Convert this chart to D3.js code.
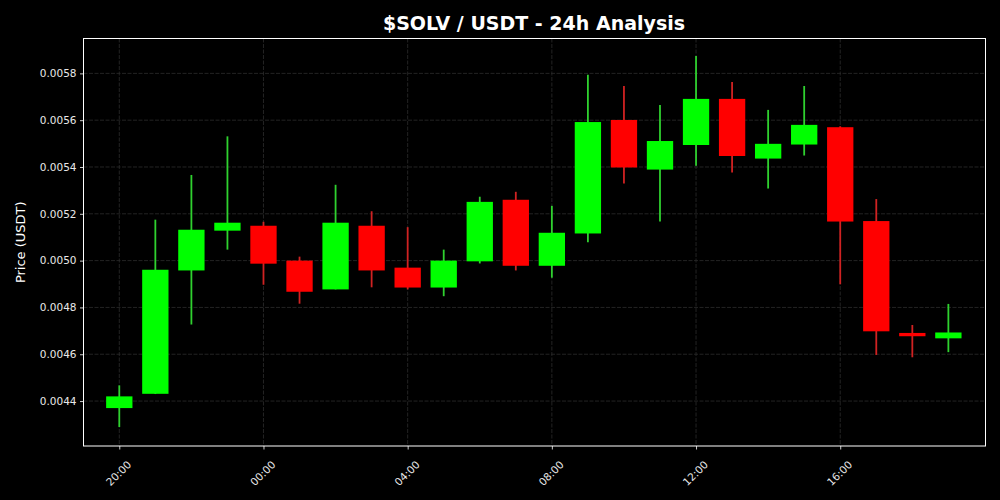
<!DOCTYPE html>
<html>
<head>
<meta charset="utf-8">
<script src="https://cdn.jsdelivr.net/npm/d3@7"></script>
<style>
    body { margin: 0; background: #000; }
    #chart { width: 1000px; height: 500px; }
    text { font-family: "DejaVu Sans", sans-serif; }
</style>
</head>
<body>
<div id="chart"></div>
<script>

// hourly candles, starting 20:00
let hours = [20, 21, 22, 23, 0, 1, 2, 3, 4, 5, 6, 7, 8, 9, 10, 11, 12, 13, 14, 15, 16, 17, 18, 19];
let opens  = [0.004370, 0.004431, 0.004958, 0.005128, 0.005149, 0.005000, 0.004877, 0.005149,
              0.004970, 0.004885, 0.004997, 0.005260, 0.004978, 0.005116, 0.005601, 0.005389,
              0.005494, 0.005691, 0.005436, 0.005496, 0.005570, 0.005169, 0.004691, 0.004668];
let closes = [0.004420, 0.004961, 0.005132, 0.005162, 0.004987, 0.004867, 0.005162, 0.004958,
              0.004885, 0.005000, 0.005251, 0.004978, 0.005119, 0.005592, 0.005398, 0.005511,
              0.005691, 0.005447, 0.005499, 0.005580, 0.005167, 0.004698, 0.004677, 0.004693];
let highs  = [0.004467, 0.005175, 0.005366, 0.005531, 0.005166, 0.005017, 0.005324, 0.005211,
              0.005143, 0.005047, 0.005273, 0.005294, 0.005234, 0.005794, 0.005746, 0.005665,
              0.005874, 0.005763, 0.005644, 0.005746, 0.005574, 0.005263, 0.004725, 0.004815];
let lows   = [0.004289, 0.004430, 0.004727, 0.005047, 0.004897, 0.004816, 0.004877, 0.004886,
              0.004877, 0.004848, 0.004988, 0.004958, 0.004927, 0.005078, 0.005329, 0.005167,
              0.005405, 0.005376, 0.005308, 0.005449, 0.004899, 0.004597, 0.004587, 0.004609];
let yTicks = [0.0044, 0.0046, 0.0048, 0.0050, 0.0052, 0.0054, 0.0056, 0.0058];

let HOUR = 3600 * 1000;
let start = new Date(2024, 0, 1, 20, 0);

// build candle rows
let candles = hours.map(function (h, i) {
    return {
        time: new Date(start.getTime() + i * HOUR),
        open: opens[i], close: closes[i], high: highs[i], low: lows[i]
    };
});

let margin = {top: 38.5, right: 14.5, bottom: 54, left: 83.5};
let width = 1000 - margin.left - margin.right;
let height = 500 - margin.top - margin.bottom;

let svg = d3.select("#chart").append("svg")
    .attr("width", 1000)
    .attr("height", 500);

svg.append("rect")
    .attr("width", 1000)
    .attr("height", 500)
    .attr("fill", "#000");

let g = svg.append("g")
    .attr("transform", `translate(${margin.left}, ${margin.top})`);

// scales
let x = d3.scaleTime()
    .domain([new Date(candles[0].time.getTime() - 0.993 * HOUR),
             new Date(candles[candles.length - 1].time.getTime() + 1.03 * HOUR)])
    .range([0, width]);

let y = d3.scaleLinear()
    .domain([0.004208, 0.005949])
    .range([height, 0]);

let xTicks = candles.map(d => d.time).filter(t => t.getHours() % 4 === 0);

// grid
g.selectAll(".hgrid").data(yTicks).enter().append("line")
    .attr("x1", 0).attr("x2", width)
    .attr("y1", d => y(d)).attr("y2", d => y(d))
    .attr("stroke", "#2c2c2c").attr("stroke-width", 0.8)
    .attr("stroke-dasharray", "4,1.5");

g.selectAll(".vgrid").data(xTicks).enter().append("line")
    .attr("y1", 0).attr("y2", height)
    .attr("x1", d => x(d)).attr("x2", d => x(d))
    .attr("stroke", "#2c2c2c").attr("stroke-width", 0.8)
    .attr("stroke-dasharray", "4,1.5");

// candles
let bodyW = x(new Date(start.getTime() + 0.73 * HOUR)) - x(start);

g.selectAll(".wick").data(candles).enter().append("line")
    .attr("x1", d => x(d.time)).attr("x2", d => x(d.time))
    .attr("y1", d => y(d.high)).attr("y2", d => y(d.low))
    .attr("stroke", d => d.close >= d.open ? "#2fd12f" : "#d02222")
    .attr("stroke-width", 1.8);

g.selectAll(".body").data(candles).enter().append("rect")
    .attr("x", d => x(d.time) - bodyW / 2)
    .attr("width", bodyW)
    .attr("y", d => y(Math.max(d.open, d.close)))
    .attr("height", d => Math.max(3, Math.abs(y(d.open) - y(d.close))))
    .attr("fill", d => d.close >= d.open ? "#00ff00" : "#ff0000");

// axes
let yAxis = d3.axisLeft(y).tickValues(yTicks).tickFormat(d3.format(".4f")).tickSize(3.5).tickPadding(3.5);
let xAxis = d3.axisBottom(x).tickValues(xTicks).tickFormat(d3.timeFormat("%H:%M")).tickSize(3.5).tickPadding(3);

let ya = g.append("g").attr("class", "y-axis").call(yAxis);
let xa = g.append("g").attr("class", "x-axis")
    .attr("transform", "translate(0," + height + ")")
    .call(xAxis);

[ya, xa].forEach(function (a) {
    a.select(".domain").remove();
    a.selectAll(".tick line").attr("stroke", "#fff").attr("stroke-width", 0.8);
    a.selectAll(".tick text").attr("fill", "#e8e8e8").style("font-size", "10.5px");
});

xa.selectAll(".tick text")
    .attr("text-anchor", "end")
    .attr("dy", "0.35em")
    .attr("transform", "translate(5,12) rotate(-45)");

// frame
g.append("rect")
    .attr("width", width).attr("height", height)
    .attr("fill", "none").attr("stroke", "#fff").attr("stroke-width", 1);

// labels
svg.append("text")
    .attr("x", 534).attr("y", 30)
    .attr("text-anchor", "middle")
    .attr("fill", "#fff")
    .style("font-size", "19px").style("font-weight", "bold")
    .text("$SOLV / USDT - 24h Analysis");

svg.append("text")
    .attr("transform", `translate(25, ${margin.top + height / 2}) rotate(-90)`)
    .attr("text-anchor", "middle")
    .attr("fill", "#fff")
    .style("font-size", "13px")
    .text("Price (USDT)");

</script>
</body>
</html>
